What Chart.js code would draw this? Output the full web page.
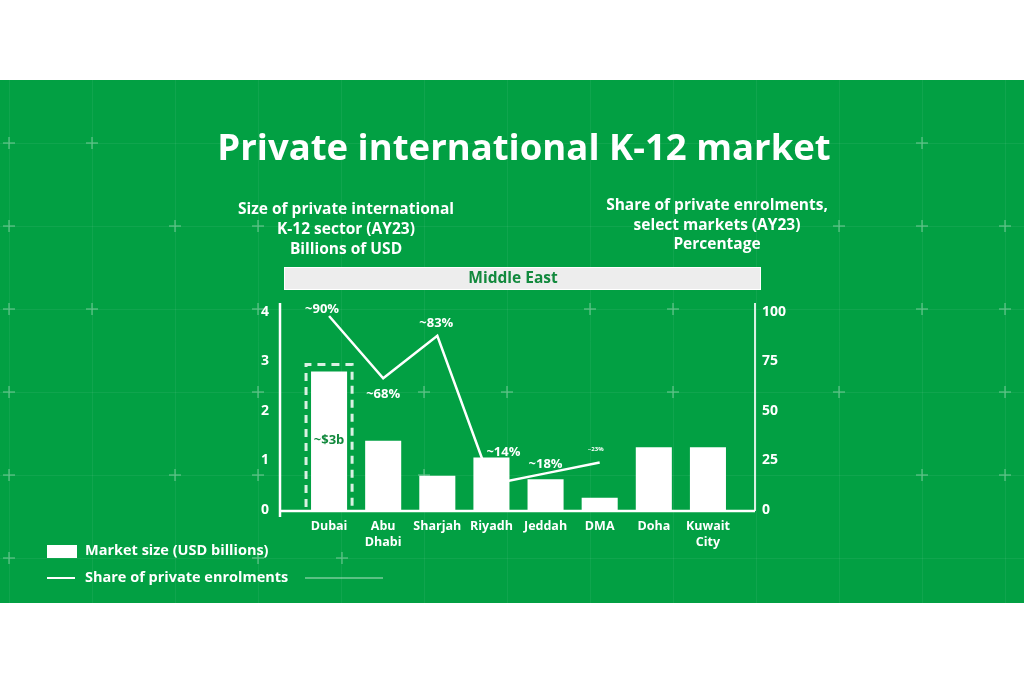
<!DOCTYPE html>
<html>
<head>
<meta charset="utf-8">
<script src="https://cdn.jsdelivr.net/npm/chart.js@4.4.1/dist/chart.umd.min.js"></script>
<style>
  html, body { margin: 0; padding: 0; background: #ffffff; }
  #wrap { width: 1024px; height: 683px; position: relative; }
</style>
</head>
<body>
<div id="wrap"><canvas id="c" width="1024" height="683"></canvas></div>
<script>
// ---- Data ----
const categories = [['Dubai'], ['Abu', 'Dhabi'], ['Sharjah'], ['Riyadh'], ['Jeddah'], ['DMA'], ['Doha'], ['Kuwait', 'City']];
const marketSize = [2.8, 1.4, 0.69, 1.06, 0.62, 0.25, 1.27, 1.27];
const shareEnrolments = [98, 66.5, 88, 13, 18.5, 24, null, null];
const shareLabels = ['~90%', '~68%', '~83%', '~14%', '~18%', '~23%', '', ''];
const leftTicks = [0, 1, 2, 3, 4];
const rightTicks = [0, 25, 50, 75, 100];
const highlightLabel = '~$3b';
const titleText = 'Private international K-12 market';
const leftSubtitle = ['Size of private international', 'K-12 sector (AY23)', 'Billions of USD'];
const rightSubtitle = ['Share of private enrolments,', 'select markets (AY23)', 'Percentage'];
const regionLabel = 'Middle East';
const seriesNames = ['Market size (USD billions)', 'Share of private enrolments'];

// ---- Styles ----
const GREEN = '#02A043';
const DARK_GREEN = '#12893D';
const FONT = '"Open Sans", Lato, sans-serif';
const labelOffsets = [[-7, -7], [0, 16], [-1, -12], [12, -32], [0, -9], [-4, -13], [0, 0], [0, 0]];
const labelSizes = [13, 13, 13, 13, 13, 6, 13, 13];

const decorPlugin = {
  id: 'decor',
  beforeDraw(chart) {
    const ctx = chart.ctx;
    ctx.save();
    ctx.fillStyle = '#ffffff';
    ctx.fillRect(0, 0, 1024, 683);
    ctx.fillStyle = GREEN;
    ctx.fillRect(0, 80, 1024, 523);
    // faint background grid
    ctx.strokeStyle = 'rgba(255,255,255,0.06)';
    ctx.lineWidth = 1;
    for (let x = 9; x < 1024; x += 83) {
      ctx.beginPath(); ctx.moveTo(x + 0.5, 80); ctx.lineTo(x + 0.5, 603); ctx.stroke();
    }
    for (let y = 143; y < 603; y += 83) {
      ctx.beginPath(); ctx.moveTo(0, y + 0.5); ctx.lineTo(1024, y + 0.5); ctx.stroke();
    }
    // crosses
    const crosses = [
      [9,143],[92,143],[922,143],
      [9,226],[175,226],[258,226],[839,226],[922,226],[1005,226],
      [9,309],[92,309],[258,309],[590,309],[673,309],[922,309],[1005,309],
      [9,392],[258,392],[424,392],[507,392],[673,392],[839,392],[1005,392],
      [9,475],[175,475],[258,475],[424,475],[922,475],[1005,475],
      [9,558],[258,558],[342,558]
    ];
    ctx.strokeStyle = 'rgba(255,255,255,0.3)';
    ctx.lineWidth = 1.5;
    crosses.forEach(([x, y]) => {
      ctx.beginPath();
      ctx.moveTo(x - 6, y); ctx.lineTo(x + 6, y);
      ctx.moveTo(x, y - 6); ctx.lineTo(x, y + 6);
      ctx.stroke();
    });
    // Title
    ctx.fillStyle = '#ffffff';
    ctx.textAlign = 'center';
    ctx.textBaseline = 'alphabetic';
    ctx.font = 'bold 36.5px ' + FONT;
    ctx.fillText(titleText, 524, 160);
    // Subtitles
    ctx.font = 'bold 15.5px ' + FONT;
    ctx.textBaseline = 'middle';
    leftSubtitle.forEach((t, i) => ctx.fillText(t, 346, 210 + i * 20));
    rightSubtitle.forEach((t, i) => ctx.fillText(t, 717, 206 + i * 19.5));
    // Region band
    ctx.fillStyle = '#EDEDED';
    ctx.fillRect(284, 267, 477, 23);
    ctx.strokeStyle = '#ffffff';
    ctx.lineWidth = 1;
    ctx.strokeRect(284.5, 267.5, 476, 22);
    ctx.fillStyle = DARK_GREEN;
    ctx.font = 'bold 15.5px ' + FONT;
    ctx.fillText(regionLabel, 513, 279);
    // Legend
    ctx.fillStyle = '#ffffff';
    ctx.fillRect(47, 545, 30, 13);
    ctx.strokeStyle = '#ffffff';
    ctx.lineWidth = 2;
    ctx.beginPath(); ctx.moveTo(47, 578); ctx.lineTo(75, 578); ctx.stroke();
    ctx.strokeStyle = 'rgba(255,255,255,0.35)';
    ctx.beginPath(); ctx.moveTo(305, 578); ctx.lineTo(383, 578); ctx.stroke();
    ctx.textAlign = 'left';
    ctx.font = 'bold 14.5px ' + FONT;
    ctx.fillStyle = '#ffffff';
    ctx.fillText(seriesNames[0], 85, 551);
    ctx.fillText(seriesNames[1], 85, 578);
    ctx.restore();
  },
  afterDatasetsDraw(chart) {
    const ctx = chart.ctx;
    const ca = chart.chartArea;
    ctx.save();
    // axis lines
    ctx.strokeStyle = '#ffffff';
    ctx.lineWidth = 2.5;
    ctx.beginPath();
    ctx.moveTo(ca.left - 22, ca.top - 9);
    ctx.lineTo(ca.left - 22, ca.bottom + 7);
    ctx.stroke();
    ctx.beginPath();
    ctx.moveTo(ca.left - 23, ca.bottom + 1);
    ctx.lineTo(ca.right + 20, ca.bottom + 1);
    ctx.stroke();
    ctx.strokeStyle = 'rgba(255,255,255,0.85)';
    ctx.lineWidth = 2;
    ctx.beginPath();
    ctx.moveTo(ca.right + 20, ca.top - 9);
    ctx.lineTo(ca.right + 20, ca.bottom + 1);
    ctx.stroke();

    // highlight box around the first bar
    const barMeta = chart.getDatasetMeta(1);
    const b = barMeta.data[0];
    if (b) {
      const left = b.x - b.width / 2 - 5;
      const right = b.x + b.width / 2 + 5;
      ctx.strokeStyle = 'rgba(255,255,255,0.85)';
      ctx.lineWidth = 3;
      ctx.setLineDash([8, 6]);
      ctx.beginPath();
      ctx.moveTo(left, b.base - 3);
      ctx.lineTo(left, b.y - 7);
      ctx.lineTo(right, b.y - 7);
      ctx.lineTo(right, b.base - 3);
      ctx.stroke();
      ctx.setLineDash([]);
      ctx.fillStyle = DARK_GREEN;
      ctx.font = 'bold 13px ' + FONT;
      ctx.textAlign = 'center';
      ctx.textBaseline = 'middle';
      ctx.fillText(highlightLabel, b.x, (b.y + b.base) / 2);
    }
    // line labels
    const lineMeta = chart.getDatasetMeta(0);
    ctx.fillStyle = '#ffffff';
    ctx.textAlign = 'center';
    ctx.textBaseline = 'middle';
    lineMeta.data.forEach((p, i) => {
      if (!shareLabels[i] || shareEnrolments[i] == null) return;
      ctx.font = 'bold ' + labelSizes[i] + 'px ' + FONT;
      ctx.fillText(shareLabels[i], p.x + labelOffsets[i][0], p.y + labelOffsets[i][1]);
    });
    ctx.restore();
  }
};

new Chart(document.getElementById('c'), {
  type: 'bar',
  data: {
    labels: categories,
    datasets: [
      {
        type: 'line',
        label: seriesNames[1],
        data: shareEnrolments,
        yAxisID: 'y1',
        borderColor: '#ffffff',
        borderWidth: 2.5,
        pointRadius: 0,
        tension: 0,
        spanGaps: false,
        order: 1
      },
      {
        type: 'bar',
        label: seriesNames[0],
        data: marketSize,
        yAxisID: 'y',
        backgroundColor: '#ffffff',
        borderWidth: 0,
        categoryPercentage: 1,
        barPercentage: 0.666,
        order: 2
      }
    ]
  },
  options: {
    responsive: false,
    animation: false,
    layout: { padding: { top: 312, left: 0, right: 0, bottom: 0 } },
    plugins: { legend: { display: false }, tooltip: { enabled: false } },
    scales: {
      x: {
        offset: true,
        grid: { display: false, drawTicks: false },
        border: { display: false },
        ticks: {
          color: '#ffffff',
          font: { family: FONT, size: 12.5, weight: 'bold', lineHeight: 1.25 },
          padding: 9,
          maxRotation: 0,
          autoSkip: false
        },
        afterFit(s) { s.height = 173; }
      },
      y: {
        position: 'left',
        min: 0, max: 4,
        afterBuildTicks(s) { s.ticks = leftTicks.map(v => ({ value: v })); },
        grid: { display: false, drawTicks: false },
        border: { display: false },
        ticks: {
          color: '#ffffff',
          font: { family: FONT, size: 14, weight: 'bold' },
          padding: 33
        },
        afterFit(s) { s.width = 302; }
      },
      y1: {
        position: 'right',
        min: 0, max: 100,
        afterBuildTicks(s) { s.ticks = rightTicks.map(v => ({ value: v })); },
        grid: { display: false, drawTicks: false },
        border: { display: false },
        ticks: {
          color: '#ffffff',
          font: { family: FONT, size: 14, weight: 'bold' },
          padding: 27
        },
        afterFit(s) { s.width = 289; }
      }
    }
  },
  plugins: [decorPlugin]
});
</script>
</body>
</html>
